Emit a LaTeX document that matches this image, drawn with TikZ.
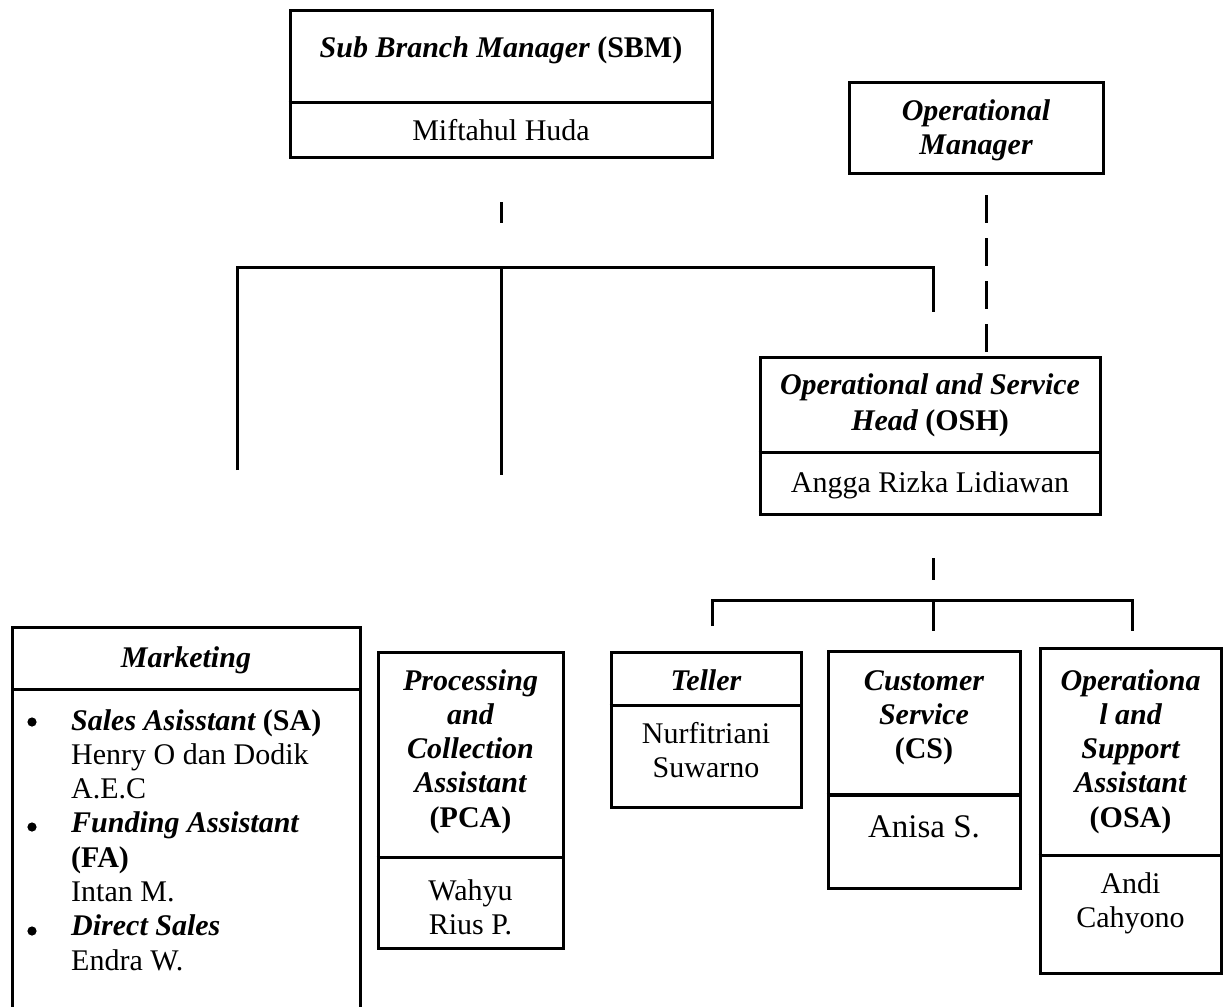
\documentclass[tikz,border=0pt]{standalone}
\usepackage{fontspec}
\setmainfont{Liberation Serif}
\tikzset{
  box/.style={draw, line width=3pt, rectangle, inner sep=0pt},
  conn/.style={line width=3pt},
  ttl/.style={font=\fontsize{30}{34.3}\selectfont\bfseries\itshape, anchor=base, inner sep=0pt},
  nm/.style={font=\fontsize{30}{34.3}\selectfont, anchor=base, inner sep=0pt},
  nmbig/.style={font=\fontsize{33}{37}\selectfont, anchor=base, inner sep=0pt},
  item/.style={anchor=base west},
  dashline/.style={line width=3pt, dash pattern=on 28pt off 15pt},
}
\begin{document}
\begin{tikzpicture}[x=1pt,y=-1pt]
\useasboundingbox (0,0) rectangle (1227,1007);

% ---------- boxes ----------
\node[box, minimum width=422pt, minimum height=147pt] (sbm) at (501,83.5) {};
\node[box, minimum width=254pt, minimum height=91pt] (om) at (976,127.5) {};
\node[box, minimum width=340pt, minimum height=157pt] (osh) at (930,435.5) {};
\node[box, minimum width=185pt, minimum height=296pt] (pca) at (470.5,800) {};
\node[box, minimum width=190pt, minimum height=155pt] (tel) at (706,729.5) {};
\node[box, minimum width=192pt, minimum height=237pt] (cs) at (924,769.5) {};
\node[box, minimum width=181pt, minimum height=325pt] (osa) at (1130.5,810.5) {};

% dividers
\draw[conn] (sbm.west |- 0,102) -- (sbm.east |- 0,102);
\draw[conn] (osh.west |- 0,452) -- (osh.east |- 0,452);
\draw[conn] (pca.west |- 0,857) -- (pca.east |- 0,857);
\draw[conn] (tel.west |- 0,705) -- (tel.east |- 0,705);
\draw[line width=4.5pt] (cs.west |- 0,795) -- (cs.east |- 0,795);
\draw[conn] (osa.west |- 0,855) -- (osa.east |- 0,855);

% marketing (open at the bottom)
\draw[conn] (12,1010) -- (12,627) -- (360,627) -- (360,1010);
\draw[conn] (12,689) -- (360,689);

% ---------- texts ----------
\node[ttl] (sbmT) at (501,57) {Sub Branch Manager \upshape(SBM)};
\node[nm] (sbmN) at (501,140) {Miftahul Huda};

\node[ttl] (omT1) at (976,120) {Operational};
\node[ttl] (omT2) at (976,154) {Manager};

\node[ttl] (oshT1) at (930,394) {Operational and Service};
\node[ttl] (oshT2) at (930,430) {Head \upshape(OSH)};
\node[nm] (oshN) at (930,492) {Angga Rizka Lidiawan};

\node[ttl] (mktT) at (186,667) {Marketing};
\fill (32,722) circle (4.6pt);
\fill (32,827) circle (4.6pt);
\fill (32,931) circle (4.6pt);
\node[ttl,item] (m1) at (71,730) {Sales Asisstant \upshape(SA)};
\node[nm,item] (m2) at (71,764.3) {Henry O dan Dodik};
\node[nm,item] (m3) at (71,798.6) {A.E.C};
\node[ttl,item] (m4) at (71,832.9) {Funding Assistant};
\node[ttl,item] (m5) at (71,867.2) {\upshape(FA)};
\node[nm,item] (m6) at (71,901.5) {Intan M.};
\node[ttl,item] (m7) at (71,935.8) {Direct Sales};
\node[nm,item] (m8) at (71,970.1) {Endra W.};

\node[ttl] (pcaT1) at (470.5,690) {Processing};
\node[ttl] (pcaT2) at (470.5,724.3) {and};
\node[ttl] (pcaT3) at (470.5,758.6) {Collection};
\node[ttl] (pcaT4) at (470.5,792.9) {Assistant};
\node[ttl] (pcaT5) at (470.5,827.2) {\upshape(PCA)};
\node[nm] (pcaN1) at (470.5,900) {Wahyu};
\node[nm] (pcaN2) at (470.5,934.3) {Rius P.};

\node[ttl] (telT) at (706,690) {Teller};
\node[nm] (telN1) at (706,743) {Nurfitriani};
\node[nm] (telN2) at (706,777.3) {Suwarno};

\node[ttl] (csT1) at (924,690) {Customer};
\node[ttl] (csT2) at (924,724.3) {Service};
\node[ttl] (csT3) at (924,758.6) {\upshape(CS)};
\node[nmbig] (csN) at (924,837) {Anisa S.};

\node[ttl] (osaT1) at (1130.5,690) {Operationa};
\node[ttl] (osaT2) at (1130.5,724.3) {l and};
\node[ttl] (osaT3) at (1130.5,758.6) {Support};
\node[ttl] (osaT4) at (1130.5,792.9) {Assistant};
\node[ttl] (osaT5) at (1130.5,827.2) {\upshape(OSA)};
\node[nm] (osaN1) at (1130.5,893) {Andi};
\node[nm] (osaN2) at (1130.5,927.3) {Cahyono};

% ---------- connectors ----------
\coordinate (sbmA) at (501,202);
\coordinate (sbmB) at (501,223);
\draw[conn] (sbmA) -- (sbmB);

\coordinate (brL) at (237,470);
\coordinate (brLt) at (237,267);
\coordinate (brM) at (501,267);
\coordinate (brMb) at (501,475);
\coordinate (brR) at (933,267);
\coordinate (brRb) at (933,312);
\draw[conn] (brL) -- (brLt) -- (brR) -- (brRb);
\draw[conn] (brM) -- (brMb);

\coordinate (omA) at (986,195);
\coordinate (omB) at (986,353);
\draw[dashline] (omA) -- (omB);

\coordinate (oshA) at (933,558);
\coordinate (oshB) at (933,580);
\draw[conn] (oshA) -- (oshB);

\coordinate (lbL) at (712,626);
\coordinate (lbLt) at (712,600);
\coordinate (lbM) at (933,600);
\coordinate (lbMb) at (933,631);
\coordinate (lbR) at (1132,600);
\coordinate (lbRb) at (1132,631);
\draw[conn] (lbL) -- (lbLt) -- (lbR) -- (lbRb);
\draw[conn] (lbM) -- (lbMb);
\end{tikzpicture}
\end{document}
